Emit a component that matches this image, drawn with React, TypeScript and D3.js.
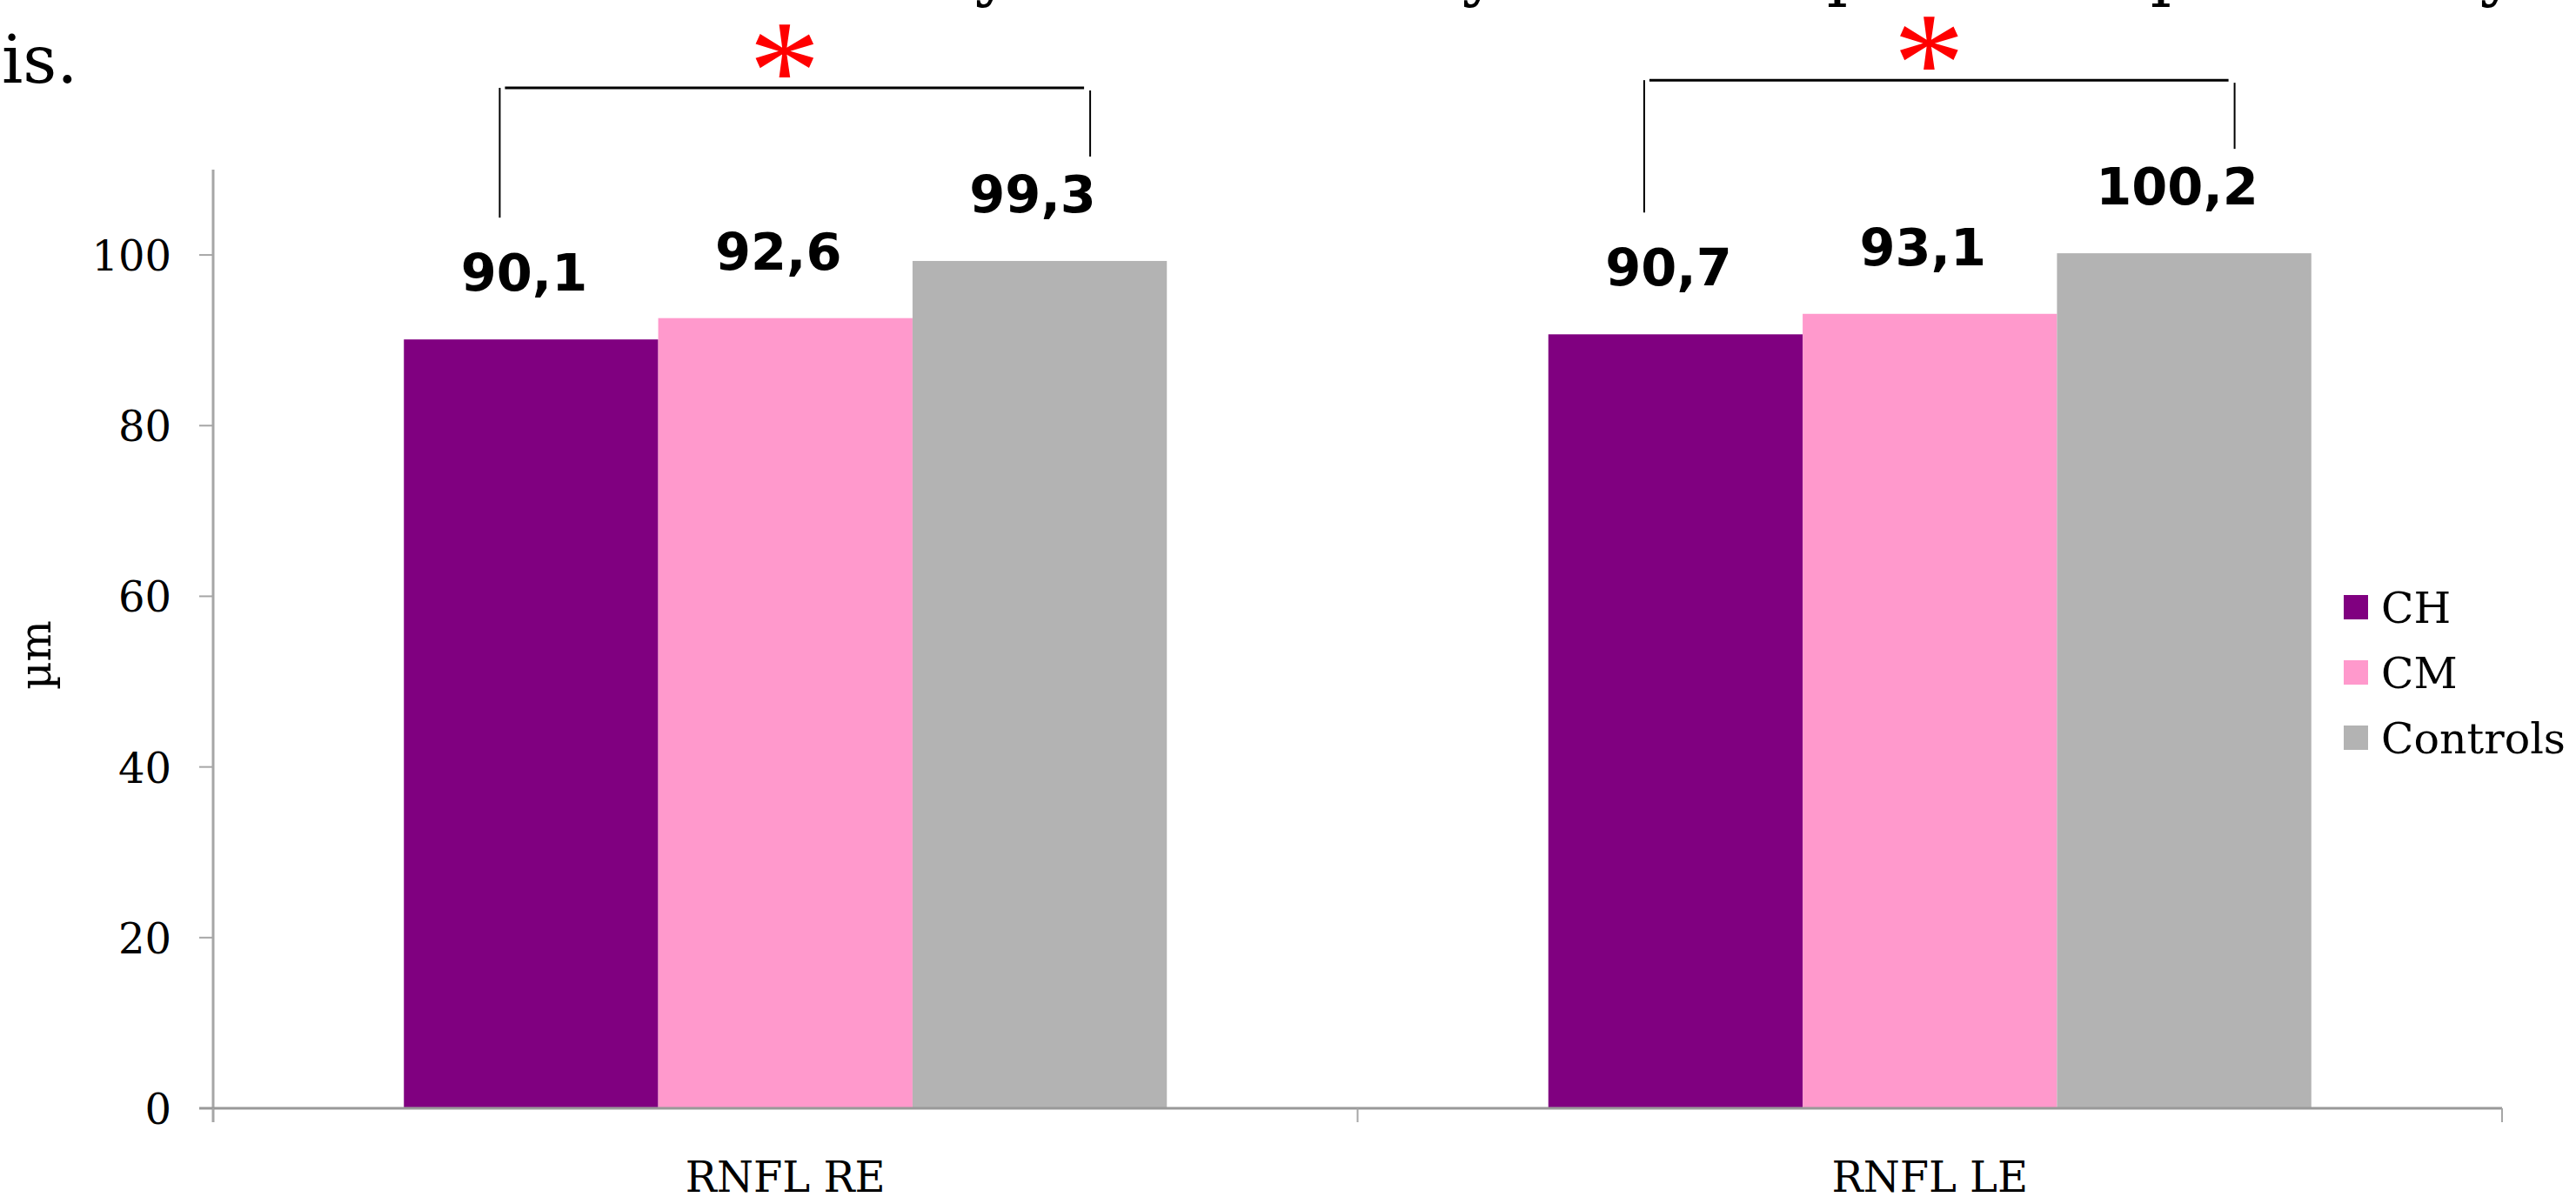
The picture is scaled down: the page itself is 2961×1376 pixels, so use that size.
import React from 'react';
import * as d3 from 'd3';

// RNFL thickness (µm) per eye, by group
const categories = ['RNFL RE', 'RNFL LE'];
const seriesNames = ['CH', 'CM', 'Controls'];
const chValues = [90.1, 90.7];
const cmValues = [92.6, 93.1];
const controlValues = [99.3, 100.2];
const seriesColors = ['#800080', '#FF99CC', '#B3B3B3'];
const yTicks = [0, 20, 40, 60, 80, 100];
const yMax = 110;
const yTitle = 'µm';
// significance marker drawn over each eye (CH vs Controls)
const significance = ['*', '*'];
// tail of the preceding text line, clipped by the top of the page
const prevLineGlyphs = ['y', 'y', 'p', 'p', 'y'];
const prevLineX = [1142, 1702, 2124, 2496, 2872];
const trailingText = 'is.';

const W = 2961;
const H = 1376;
const M = { left: 245, right: 2876, top: 195, bottom: 1274 };

const SERIF = "'DejaVu Serif', serif";
const SANS = "'DejaVu Sans', Verdana, sans-serif";
const STAR_FONT = "'Liberation Serif', serif";

export default function App() {
  const series = [chValues, cmValues, controlValues];

  const x = d3.scaleBand<string>().domain(categories).range([M.left, M.right]).paddingInner(0).paddingOuter(0);
  const xInner = d3
    .scaleBand<string>()
    .domain(seriesNames)
    .range([0, x.bandwidth()])
    .paddingInner(0)
    .paddingOuter(0.75);
  const y = d3.scaleLinear().domain([0, yMax]).range([M.bottom, M.top]);

  const bw = xInner.bandwidth();
  const catTicks = [...categories.map((c) => x(c)!), M.right];

  return (
    <svg
      width={W}
      height={H}
      viewBox={`0 0 ${W} ${H}`}
      style={{ position: 'absolute', left: 0, top: 0, background: '#fff' }}
    >
      <rect x={0} y={0} width={W} height={H} fill="#fff" />

      {/* surrounding body text */}
      <g fontFamily={SERIF} fontSize={76} fill="#000">
        {prevLineGlyphs.map((g, i) => (
          <text key={i} x={prevLineX[i]} y={-8} textAnchor="middle">
            {g}
          </text>
        ))}
        <text x={2} y={95}>{trailingText}</text>
      </g>

      {/* bars */}
      {categories.map((c, ci) => (
        <g key={c} transform={`translate(${x(c)},0)`}>
          {seriesNames.map((s, si) => {
            const v = series[si][ci];
            return (
              <rect
                key={s}
                x={xInner(s)}
                y={y(v)}
                width={bw}
                height={y(0) - y(v)}
                fill={seriesColors[si]}
              />
            );
          })}
        </g>
      ))}

      {/* value labels */}
      <g fontFamily={SANS} fontWeight="bold" fontSize={59} fill="#000" textAnchor="middle">
        {categories.map((c, ci) =>
          seriesNames.map((s, si) => {
            const v = series[si][ci];
            return (
              <text key={c + s} x={x(c)! + xInner(s)! + bw / 2 - 8} y={y(v) - 56}>
                {d3.format('.1f')(v).replace('.', ',')}
              </text>
            );
          })
        )}
      </g>

      {/* significance brackets */}
      {categories.map((c, ci) => {
        const xl = x(c)! + xInner(seriesNames[0])! + bw / 2 - 36;
        const xr = x(c)! + xInner(seriesNames[2])! + bw / 2 + 58;
        const top = Math.max(chValues[ci], controlValues[ci]);
        const yTop = y(top) - 199;
        const yLeftEnd = y(chValues[ci]) - 140;
        const yRightEnd = y(controlValues[ci]) - 120;
        return (
          <g key={'b' + c} stroke="#000" fill="none">
            <line x1={xl} x2={xl} y1={yTop} y2={yLeftEnd} strokeWidth={2} />
            <line x1={xl + 6} x2={xr - 7} y1={yTop} y2={yTop} strokeWidth={3} />
            <line x1={xr} x2={xr} y1={yTop + 3} y2={yRightEnd} strokeWidth={2} />
            <text
              x={(xl + xr) / 2 - 12}
              y={yTop + 36}
              textAnchor="middle"
              fontFamily={STAR_FONT}
              fontSize={165}
              fill="#FF0000"
              stroke="none"
            >
              {significance[ci]}
            </text>
          </g>
        );
      })}

      {/* y axis */}
      <g>
        <line x1={M.left} x2={M.left} y1={M.top} y2={M.bottom + 16} stroke="#A6A6A6" strokeWidth={3} />
        {yTicks.map((t) => (
          <g key={t}>
            <line x1={M.left - 16} x2={M.left} y1={y(t)} y2={y(t)} stroke="#A6A6A6" strokeWidth={2} />
            <text
              x={197}
              y={y(t) + 18}
              textAnchor="end"
              fontFamily={SERIF}
              fontSize={48}
              fill="#000"
            >
              {t}
            </text>
          </g>
        ))}
        <text
          transform={`translate(58,753) rotate(-90)`}
          textAnchor="middle"
          fontFamily={SERIF}
          fontSize={50}
          fill="#000"
        >
          {yTitle}
        </text>
      </g>

      {/* x axis */}
      <g>
        <line x1={M.left - 16} x2={M.right} y1={M.bottom} y2={M.bottom} stroke="#999" strokeWidth={3} />
        {catTicks.map((tx, i) => (
          <line key={i} x1={tx} x2={tx} y1={M.bottom} y2={M.bottom + 16} stroke="#A6A6A6" strokeWidth={2} />
        ))}
        {categories.map((c) => (
          <text
            key={c}
            x={x(c)! + x.bandwidth() / 2}
            y={1370}
            textAnchor="middle"
            fontFamily={SERIF}
            fontSize={48}
            fill="#000"
          >
            {c}
          </text>
        ))}
      </g>

      {/* legend */}
      <g>
        {seriesNames.map((s, i) => {
          const cy = 698 + i * 75;
          return (
            <g key={s}>
              <rect x={2694} y={cy - 14} width={28} height={28} fill={seriesColors[i]} />
              <text x={2737} y={cy + 18} fontFamily={SERIF} fontSize={49} fill="#000">
                {s}
              </text>
            </g>
          );
        })}
      </g>
    </svg>
  );
}
